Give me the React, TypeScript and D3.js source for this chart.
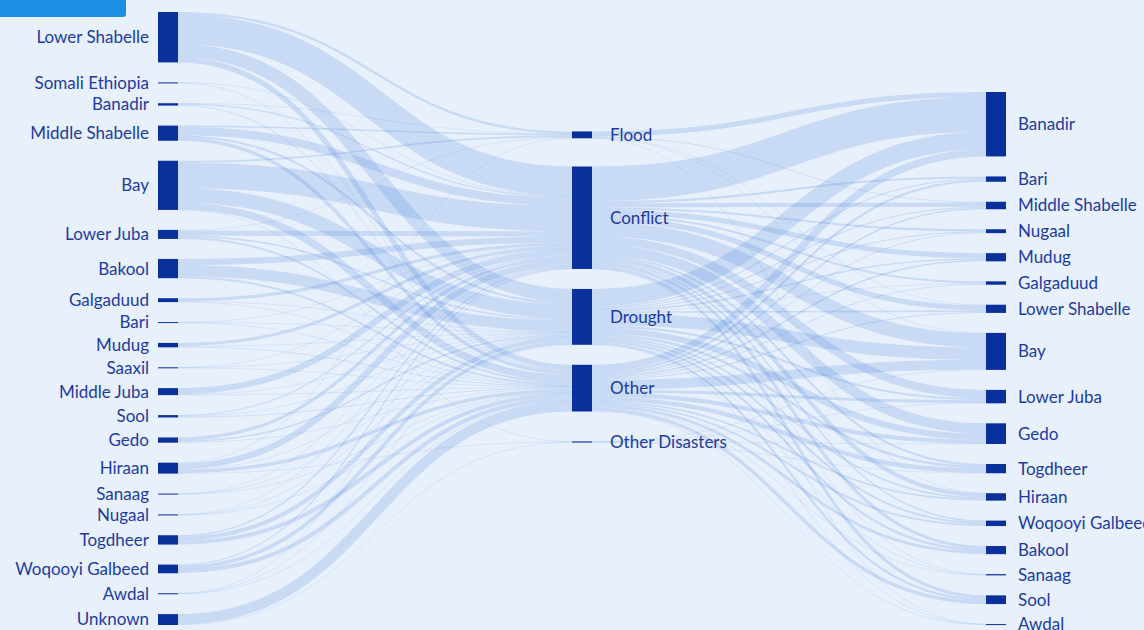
import React, { useMemo } from "react";
import * as d3 from "d3";

// ---------- DATA ----------
const origins = [
  "Lower Shabelle", "Somali Ethiopia", "Banadir", "Middle Shabelle", "Bay", "Lower Juba", "Bakool",
  "Galgaduud", "Bari", "Mudug", "Saaxil", "Middle Juba", "Sool", "Gedo", "Hiraan", "Sanaag",
  "Nugaal", "Togdheer", "Woqooyi Galbeed", "Awdal", "Unknown",
];
const reasons = ["Flood", "Conflict", "Drought", "Other", "Other Disasters"];
const destinations = [
  "Banadir", "Bari", "Middle Shabelle", "Nugaal", "Mudug", "Galgaduud", "Lower Shabelle", "Bay",
  "Lower Juba", "Gedo", "Togdheer", "Hiraan", "Woqooyi Galbeed", "Bakool", "Sanaag", "Sool", "Awdal",
];

// origin -> reason (in origins order)
const originToFlood = [2.2, 0, 0.3, 1.5, 1.7, 0.5, 0, 0, 0, 0, 0, 0, 0, 0, 0.5, 0, 0, 0, 0, 0, 0];
const originToConflict = [29, 0.2, 1.2, 8, 25, 5, 6, 3, 0.3, 3, 0.2, 6, 1, 3, 6, 0.3, 0.3, 1.3, 1, 0.2, 0];
const originToDrought = [13, 0, 0, 2, 14, 1.5, 11, 0.5, 0.3, 0.5, 0.3, 0.5, 0.5, 1.5, 0.5, 0.3, 0.3, 4, 3.5, 0.3, 0];
const originToOther = [5, 0.6, 0.8, 3.3, 7, 1.8, 1.8, 0.3, 0.2, 0.8, 0.3, 0.3, 0.8, 0.6, 3.3, 0.2, 0.2, 3.8, 4, 0.3, 10.2];
const originToOtherDisasters = [0, 0, 0, 0, 0.3, 0, 0, 0, 0, 0, 0, 0, 0, 0, 0.35, 0, 0, 0, 0, 0, 0.45];

// reason -> destination (in destinations order)
const floodToDest = [5, 0, 0.8, 0, 0, 0, 0.5, 0.3, 0, 0, 0, 0.1, 0, 0, 0, 0, 0];
const conflictToDest = [33.9, 2, 4, 2, 5, 2, 5, 14, 8, 10, 2, 4, 1.5, 3, 0.4, 3, 0.2];
const droughtToDest = [17, 1, 1, 1, 1.5, 0.5, 1.5, 12, 2, 6, 2.4, 1.5, 2, 2.2, 0.4, 2.2, 0.3];
const otherToDest = [7, 2.2, 1.5, 0.8, 1.5, 0.8, 1, 9.5, 2.8, 4, 4.3, 1.6, 1.8, 2.7, 0.4, 3.3, 0.4];
const otherDisastersToDest = [0, 0, 0, 0, 0, 0, 0, 0.3, 0.3, 0.2, 0.3, 0, 0, 0, 0, 0, 0];

const originFlows = [originToFlood, originToConflict, originToDrought, originToOther, originToOtherDisasters];
const destFlows = [floodToDest, conflictToDest, droughtToDest, otherToDest, otherDisastersToDest];

// ---------- SANKEY LAYOUT ----------
// outer columns packed (left from top, right from bottom); middle column relaxed
// toward the mean of its link positions, overlaps resolved by pooling.
function sankeyLayout(nodesIn: any[], linksIn: any[], opt: any) {
  const { x0, y0, x1, y1, dx, padding, iterations } = opt;
  const nodes: any[] = nodesIn.map((d, i) => ({ ...d, index: i, sourceLinks: [], targetLinks: [] }));
  const links: any[] = linksIn.map((d, i) => ({ ...d, index: i, source: nodes[d.source], target: nodes[d.target] }));
  for (const l of links) { l.source.sourceLinks.push(l); l.target.targetLinks.push(l); }
  for (const n of nodes) {
    n.value = Math.max(d3.sum(n.sourceLinks, (l: any) => l.value), d3.sum(n.targetLinks, (l: any) => l.value));
  }
  const nCols = (d3.max(nodes, (n: any) => n.layer) as number) + 1;
  const kx = (x1 - x0 - dx) / (nCols - 1);
  const columns: any[][] = d3.range(nCols).map(() => []);
  for (const n of nodes) { n.x0 = x0 + n.layer * kx; n.x1 = n.x0 + dx; columns[n.layer].push(n); }
  const py = Math.min(padding, (y1 - y0) / ((d3.max(columns, (c) => c.length) as number) - 1));
  const ky = d3.min(columns, (c) => (y1 - y0 - (c.length - 1) * py) / d3.sum(c, (n: any) => n.value)) as number;
  for (const n of nodes) n.h = n.value * ky;
  for (const l of links) l.width = l.value * ky;

  // first column from the top, last column from the bottom
  let y = y0;
  for (const n of columns[0]) { n.y0 = y; n.y1 = y + n.h; y = n.y1 + py; }
  y = y1;
  for (const n of [...columns[nCols - 1]].reverse()) { n.y1 = y; n.y0 = y - n.h; y = n.y0 - py; }
  // inner columns start evenly spread
  for (let c = 1; c < nCols - 1; c++) {
    const col = columns[c];
    const free = (y1 - y0 - d3.sum(col, (n: any) => n.h) - (col.length - 1) * py) / 2;
    let yy = y0 + free;
    for (const n of col) { n.y0 = yy; n.y1 = yy + n.h; yy = n.y1 + py; }
  }

  const ascBreadth = (a: any, b: any) => a.y0 - b.y0;
  const ascTarget = (a: any, b: any) => ascBreadth(a.target, b.target) || a.index - b.index;
  const ascSource = (a: any, b: any) => ascBreadth(a.source, b.source) || a.index - b.index;
  const linkBreadths = () => {
    for (const n of nodes) {
      n.sourceLinks.sort(ascTarget); n.targetLinks.sort(ascSource);
      let a = n.y0, b = n.y0;
      for (const l of n.sourceLinks) { l.y0 = a + l.width / 2; a += l.width; }
      for (const l of n.targetLinks) { l.y1 = b + l.width / 2; b += l.width; }
    }
  };

  for (let it = 0; it < iterations; it++) {
    linkBreadths();
    for (let c = 1; c < nCols - 1; c++) {
      const col = columns[c];
      for (const n of col) {
        const wl = d3.sum(n.targetLinks, (l: any) => l.value);
        const wr = d3.sum(n.sourceLinks, (l: any) => l.value);
        const cl = d3.sum(n.targetLinks, (l: any) => l.y0 * l.value) / wl;
        const cr = d3.sum(n.sourceLinks, (l: any) => l.y1 * l.value) / wr;
        n.ideal = (cl + cr) / 2 - n.h / 2; // ideal top
      }
      // pool adjacent violators
      const blocks: any[] = col.map((n: any) => ({ nodes: [n] }));
      const place = (b: any) => {
        let off = 0, sw = 0, s = 0;
        for (const n of b.nodes) { s += (n.ideal - off) * n.value; sw += n.value; off += n.h + py; }
        b.top = Math.max(y0, Math.min(y1 - (off - py), s / sw));
        b.bottom = b.top + off - py;
      };
      blocks.forEach(place);
      let merged = true;
      while (merged) {
        merged = false;
        for (let i = 0; i < blocks.length - 1; i++) {
          if (blocks[i].bottom + py > blocks[i + 1].top) {
            const b = { nodes: [...blocks[i].nodes, ...blocks[i + 1].nodes] };
            place(b);
            blocks.splice(i, 2, b);
            merged = true;
            break;
          }
        }
      }
      for (const b of blocks) {
        let yy = b.top;
        for (const n of b.nodes) { n.y0 = yy; n.y1 = yy + n.h; yy = n.y1 + py; }
      }
    }
  }
  linkBreadths();
  return { nodes, links };
}

// ---------- COMPONENT ----------
const W = 1144;
const H = 630;
const BG = "#e8f0fb";
const NODE = "#0a309c";
const TEXT = "#1c3c9e";
const LINK = "#4a84dc";

export default function App() {
  const graph = useMemo(() => {
    const nodes: any[] = [
      ...origins.map((name) => ({ name, layer: 0 })),
      ...reasons.map((name) => ({ name, layer: 1 })),
      ...destinations.map((name) => ({ name, layer: 2 })),
    ];
    const rOff = origins.length;
    const dOff = origins.length + reasons.length;
    const links: any[] = [];
    originFlows.forEach((arr, r) => arr.forEach((v, o) => { if (v > 0) links.push({ source: o, target: rOff + r, value: v }); }));
    destFlows.forEach((arr, r) => arr.forEach((v, d) => { if (v > 0) links.push({ source: rOff + r, target: dOff + d, value: v }); }));
    return sankeyLayout(nodes, links, { x0: 158, x1: 1006, y0: 12, y1: 625, dx: 20, padding: 20, iterations: 30 });
  }, []);

  const linkPath = d3.linkHorizontal<any, any>()
    .source((d: any) => [d.source.x1, d.y0])
    .target((d: any) => [d.target.x0, d.y1]);

  return (
    <div style={{ position: "fixed", left: 0, top: 0, width: W, height: H, overflow: "hidden", background: BG }}>
      <svg width={W} height={H} style={{ display: "block", fontFamily: "Lato, 'Open Sans', sans-serif" }}>
        <rect x={0} y={0} width={W} height={H} fill={BG} />
        <path d="M0,0 H126 V14 Q126,17 123,17 H0 Z" fill="#1a8fe3" />
        <g fill="none" stroke={LINK} strokeOpacity={0.2}>
          {graph.links.map((l: any, i: number) => (
            <path key={i} d={linkPath(l) as string} strokeWidth={Math.max(0.6, l.width)} />
          ))}
        </g>
        <g>
          {graph.nodes.map((n: any, i: number) => (
            <rect key={i} x={n.x0} y={n.y0} width={n.x1 - n.x0} height={Math.max(1, n.y1 - n.y0)} fill={NODE} />
          ))}
        </g>
        <g fontSize={17} fill={TEXT}>
          {graph.nodes.map((n: any, i: number) => {
            const left = n.layer === 0;
            const x = left ? n.x0 - 9 : n.layer === 1 ? n.x1 + 18 : n.x1 + 12;
            return (
              <text key={i} x={x} y={(n.y0 + n.y1) / 2} dy="0.35em" textAnchor={left ? "end" : "start"}>
                {n.name}
              </text>
            );
          })}
        </g>
      </svg>
    </div>
  );
}
